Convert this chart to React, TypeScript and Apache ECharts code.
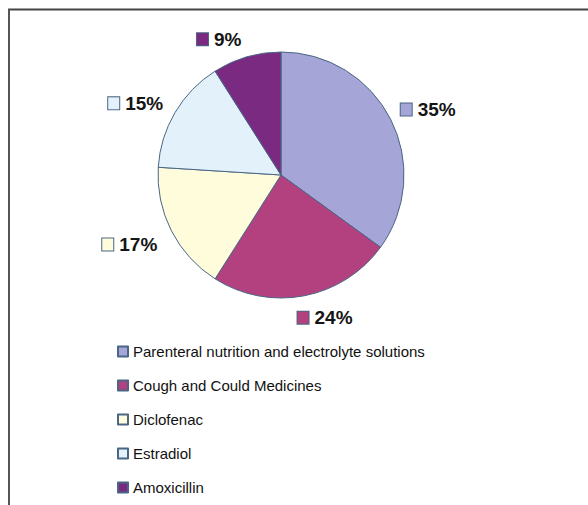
import React, { useEffect, useRef } from "react";
import * as echarts from "echarts";

const categories = [
  "Parenteral nutrition and electrolyte solutions",
  "Cough and Could Medicines",
  "Diclofenac",
  "Estradiol",
  "Amoxicillin",
];
const values = [35, 24, 17, 15, 9];
const colors = ["#A5A5D8", "#B3407F", "#FFFCDC", "#E3F1FB", "#7B2A82"];
// label nudges (style only)
const labelDx = [-2, -13, -2, 0, 2];
const labelDy = [-6, 14, 10, -5, -10];

export default function App() {
  const ref = useRef<HTMLDivElement>(null);
  useEffect(() => {
    document.body.style.margin = "0";
    const chart = echarts.init(ref.current!, undefined, { renderer: "svg" });
    const rich: any = {
      t: {
        fontSize: 19,
        fontWeight: "bold",
        fontFamily: "Liberation Sans, Arial, sans-serif",
        color: "#151515",
        padding: [0, 0, 0, 6],
      },
    };
    colors.forEach((c, i) => {
      rich["m" + i] = {
        width: 11,
        height: 12,
        backgroundColor: c,
        borderColor: "#4a6684",
        borderWidth: 1,
      };
    });
    chart.setOption({
      animation: false,
      backgroundColor: "#ffffff",
      color: colors,
      graphic: [
        {
          type: "line",
          shape: { x1: 8, y1: 9.5, x2: 588, y2: 9.5 },
          style: { stroke: "#444", lineWidth: 2 },
        },
        {
          type: "line",
          shape: { x1: 9, y1: 9, x2: 9, y2: 505 },
          style: { stroke: "#555", lineWidth: 2 },
        },
      ],
      legend: {
        orient: "vertical",
        left: 112,
        top: 339,
        itemWidth: 10,
        itemHeight: 10,
        itemGap: 19,
        icon: "rect",
        textStyle: {
          fontSize: 15,
          fontFamily: "Liberation Sans, Arial, sans-serif",
          color: "#111",
        },
        data: categories,
      },
      series: [
        {
          type: "pie",
          center: [281, 175],
          radius: 123,
          startAngle: 90,
          clockwise: true,
          itemStyle: { borderColor: "#4a6684", borderWidth: 1 },
          label: {
            show: true,
            position: "outside",
            formatter: (p: any) => `{m${p.dataIndex}|}{t|${p.value}%}`,
            rich,
          },
          labelLine: { show: false, length: 8, length2: 0 },
          labelLayout: (p: any) => ({
            dx: labelDx[p.dataIndex],
            dy: labelDy[p.dataIndex],
          }),
          emphasis: { disabled: true },
          data: categories.map((name, i) => ({ name, value: values[i] })),
        },
      ],
    });
    return () => chart.dispose();
  }, []);
  return <div ref={ref} style={{ width: 588, height: 505 }} />;
}
